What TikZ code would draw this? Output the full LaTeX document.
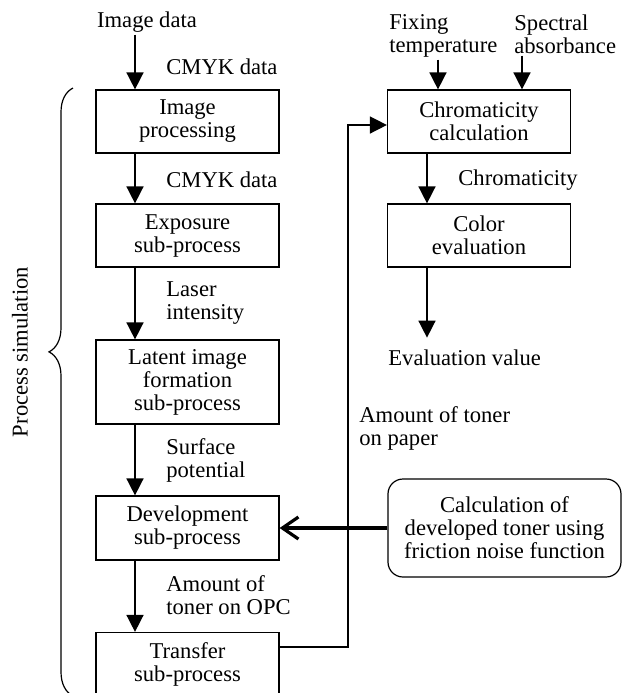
\documentclass[tikz,border=0pt]{standalone}
\usepackage{fontspec}
\setmainfont{Liberation Serif}
\usetikzlibrary{arrows.meta, decorations.pathreplacing}

\begin{document}
\begin{tikzpicture}[
  x=0.5pt, y=-0.5pt,
  txt/.style={font=\fontsize{11.3pt}{11.5pt}\selectfont, inner sep=1pt},
  proc/.style={txt, draw, line width=0.6pt, align=center, minimum width=91.5pt, minimum height=31.5pt},
  calcbox/.style={proc, rounded corners=7.5pt, minimum width=116.5pt, minimum height=49pt},
  note/.style={txt, align=left, anchor=west},
  flow/.style={-{Triangle[length=8.5pt, width=8.5pt]}, line width=0.75pt},
  feed/.style={-{Straight Barb[length=8pt, width=11pt, line width=1.6pt]}, line width=1.6pt},
]

% Frame
\useasboundingbox (0,0) rectangle (622,693);
\clip (0,0) rectangle (622,693);

% Column guides
\coordinate (lx) at (135,0);
\coordinate (fx) at (438,0);
\coordinate (sx) at (522,0);
\coordinate (cx) at (427,0);
\coordinate (fb) at (348,647);

% Process simulation chain
\node[proc] (imgproc) at (187.5,121.5) {Image\\processing};
\node[proc] (expo) at (187.5,235.5) {Exposure\\sub-process};
\node[proc, minimum height=42pt] (latent) at (187.5,382) {Latent image\\formation\\sub-process};
\node[proc, minimum height=32pt] (devel) at (187.5,528) {Development\\sub-process};
\node[proc] (transfer) at (187.5,664) {Transfer\\sub-process};

% Colour evaluation chain
\node[proc] (chroma) at (479,121.5) {Chromaticity\\calculation};
\node[proc] (coloreval) at (479,235.5) {Color\\evaluation};
\node[calcbox] (calc) at (504.5,528) {Calculation of\\developed toner using\\friction noise function};

% Data labels
\node[txt] (imgdata) at (147,22) {Image data};
\node[note] (cmyk1) at (164,67) {CMYK data};
\node[note] (cmyk2) at (164,180) {CMYK data};
\node[note] (laser) at (164,303) {Laser\\intensity};
\node[note] (surf) at (164,460) {Surface\\potential};
\node[note] (opc) at (164,595) {Amount of\\toner on OPC};
\node[note, anchor=north west] (fixing) at (387,12) {Fixing\\temperature};
\node[note, anchor=north west] (spectral) at (512,12) {Spectral\\absorbance};
\node[note] (chromlbl) at (456,180) {Chromaticity};
\node[note] (evalval) at (386,358) {Evaluation value};
\node[note] (paper) at (357,428) {Amount of toner\\on paper};

% Brace
\draw[decorate, decoration={brace, amplitude=12pt, aspect=0.566}, line width=0.6pt] (73,696) -- (73,88);
\node[txt, rotate=90] (procsim) at (20,352) {Process simulation};

% Flow arrows
\draw[flow] (imgdata.south -| lx) -- (imgproc.north -| lx);
\draw[flow] (imgproc.south -| lx) -- (expo.north -| lx);
\draw[flow] (expo.south -| lx) -- (latent.north -| lx);
\draw[flow] (latent.south -| lx) -- (devel.north -| lx);
\draw[flow] (devel.south -| lx) -- (transfer.north -| lx);
\draw[flow] (fixing.south -| fx) -- (chroma.north -| fx);
\draw[flow] (spectral.south -| sx) -- (chroma.north -| sx);
\draw[flow] (chroma.south -| cx) -- (coloreval.north -| cx);
\draw[flow, shorten >=5pt] (coloreval.south -| cx) -- (evalval.north -| cx);

% Feedback and friction noise
\draw[flow] (transfer.east |- fb) -- (fb) |- ([yshift=-1.75pt]chroma.west);
\draw[feed] (calc.west) -- (devel.east);
\end{tikzpicture}
\end{document}
